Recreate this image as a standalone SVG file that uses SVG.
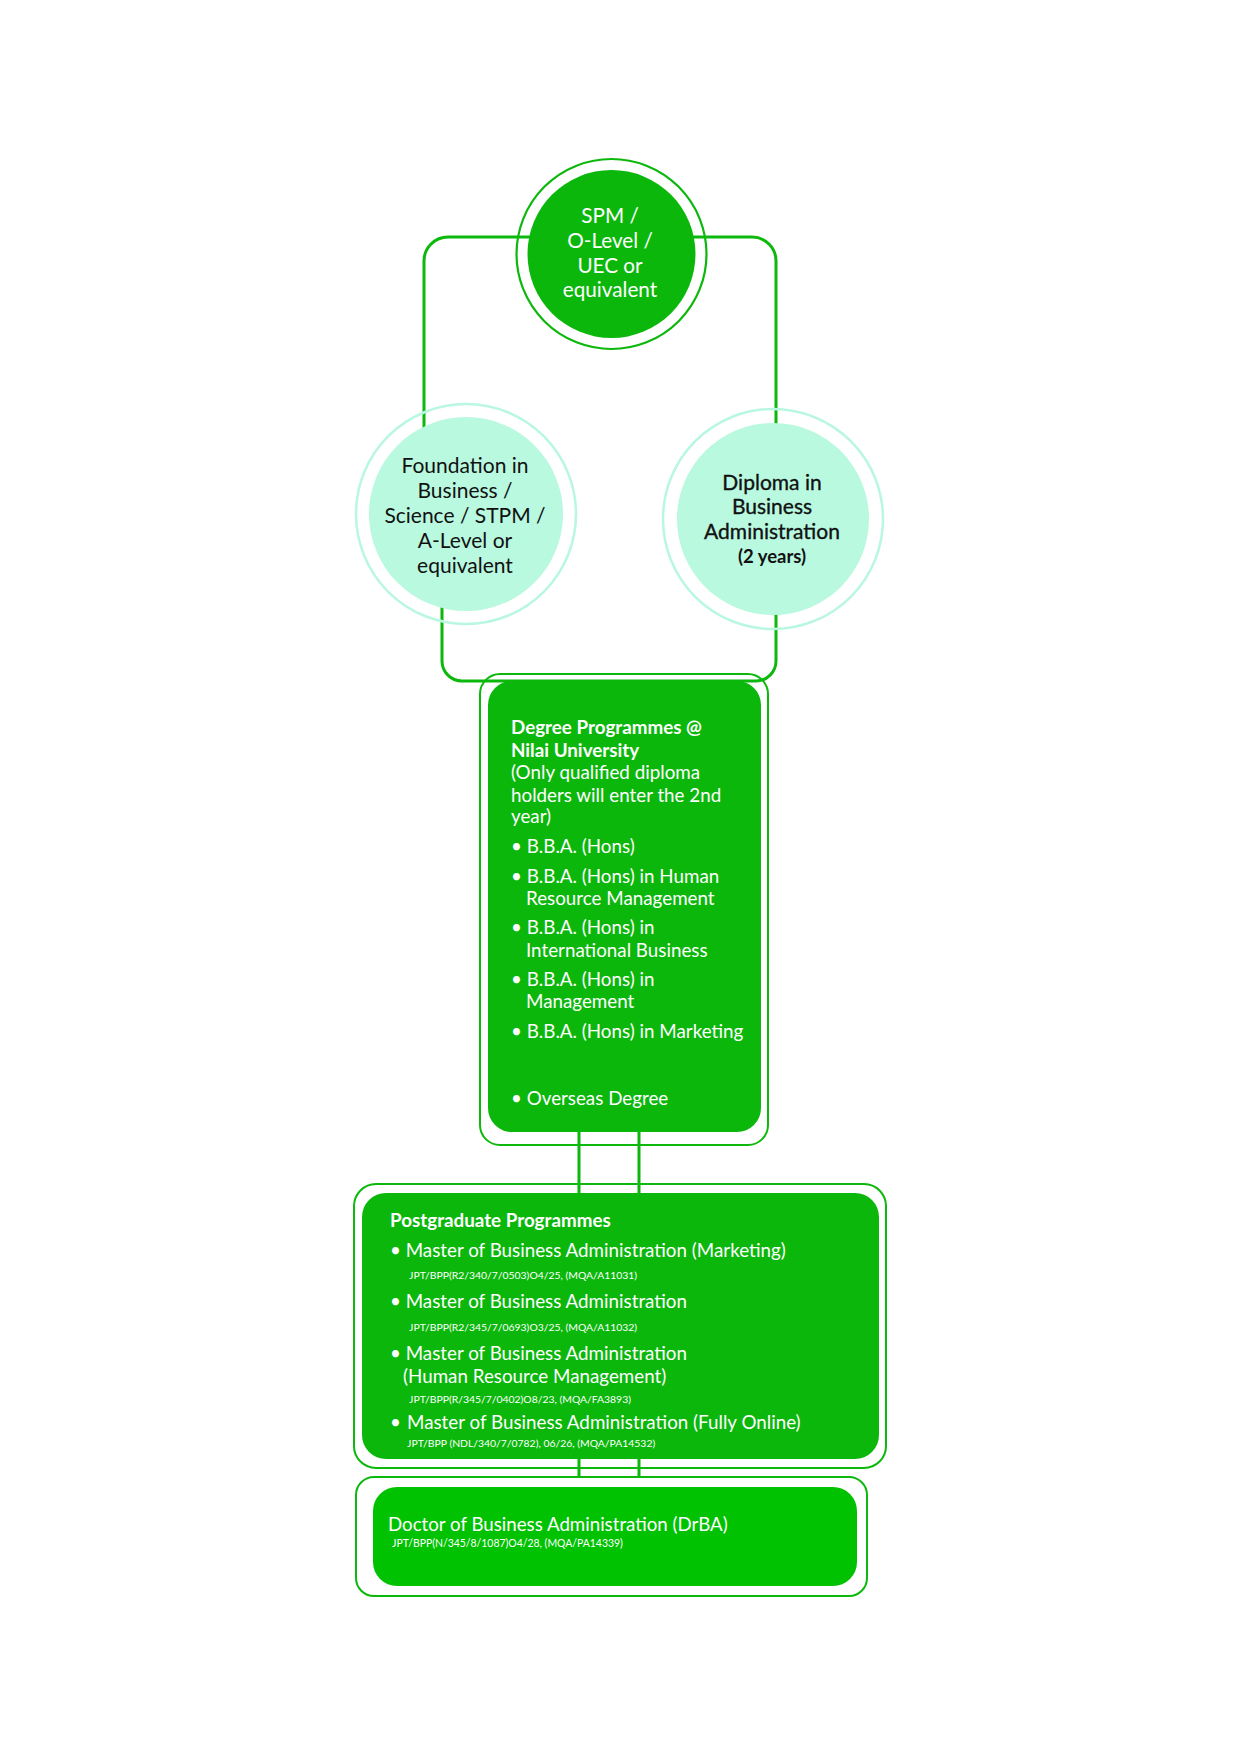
<svg xmlns="http://www.w3.org/2000/svg" width="1241" height="1754" viewBox="0 0 1241 1754">
<style>
.t{font-family:Lato,"Noto Sans","Liberation Sans",sans-serif;}
.w{fill:#ffffff;}
.k{fill:#111111;}
.b{font-weight:bold;}
.c{text-anchor:middle;}
.med{stroke:#111111;stroke-width:0.35;}
.conn{fill:none;stroke:#0cb80c;stroke-width:3;}
.ring{fill:none;stroke:#0cb80c;stroke-width:2.2;}
.mring{fill:none;stroke:#b9f7e1;stroke-width:2.5;}
.box{fill:none;stroke:#0cb80c;stroke-width:2;}
.gfill{fill:#0bb70b;}
.mfill{fill:#b8f9e0;}
</style>
<rect width="1241" height="1754" fill="#ffffff"/>
<g id="connectors">
<path class="conn" d="M424,430 V261 A24,24 0 0 1 448,237 H752 A24,24 0 0 1 776,261 V424"/>
<path class="conn" d="M442,606 V661 A20,20 0 0 0 462,681 H756 A20,20 0 0 0 776,661 V614"/>
<path class="conn" d="M579,1132 V1194 M639,1132 V1194 M579,1458 V1478 M639,1458 V1478"/>
</g>
<g id="node-spm">
<circle class="ring" cx="611.5" cy="254" r="95"/>
<circle class="gfill" cx="611.5" cy="254" r="84"/>
<g class="t w c" font-size="20.7">
<text x="610" y="223">SPM /</text>
<text x="610" y="248">O-Level /</text>
<text x="610" y="273">UEC or</text>
<text x="610" y="297">equivalent</text>
</g>
</g>
<g id="node-foundation">
<circle class="mring" cx="466" cy="514" r="110"/>
<circle class="mfill" cx="466" cy="514" r="97"/>
<g class="t k c" font-size="21">
<text x="465" y="473">Foundation in</text>
<text x="465" y="498">Business /</text>
<text x="465" y="523">Science / STPM /</text>
<text x="465" y="548">A-Level or</text>
<text x="465" y="573">equivalent</text>
</g>
</g>
<g id="node-diploma">
<circle class="mring" cx="773" cy="519" r="110"/>
<circle class="mfill" cx="773" cy="519" r="96"/>
<g class="t k c" font-size="21">
<text class="med" x="772" y="490">Diploma in</text>
<text class="med" x="772" y="514">Business</text>
<text class="med" x="772" y="539">Administration</text>
<text class="b" font-size="18.5" x="772" y="563">(2 years)</text>
</g>
</g>
<g id="node-degree">
<rect class="box" x="480" y="674" width="288" height="471" rx="20"/>
<rect class="gfill" x="488" y="681" width="273" height="451" rx="24"/>
<g class="t w" font-size="18.8">
<text class="b" x="511" y="734">Degree Programmes @</text>
<text class="b" x="511" y="757">Nilai University</text>
<text x="511" y="779">(Only qualified diploma</text>
<text x="511" y="802">holders will enter the 2nd</text>
<text x="511" y="823">year)</text>
<text x="511" y="853">• B.B.A. (Hons)</text>
<text x="511" y="883">• B.B.A. (Hons) in Human</text>
<text x="526" y="905">Resource Management</text>
<text x="511" y="934">• B.B.A. (Hons) in</text>
<text x="526" y="957">International Business</text>
<text x="511" y="986">• B.B.A. (Hons) in</text>
<text x="526" y="1008">Management</text>
<text x="511" y="1038">• B.B.A. (Hons) in Marketing</text>
<text x="511" y="1105">• Overseas Degree</text>
</g>
</g>
<g id="node-postgraduate">
<rect class="box" x="354" y="1184" width="532" height="284" rx="22"/>
<rect class="gfill" x="362" y="1193" width="517" height="266" rx="24"/>
<g class="t w">
<text class="b" font-size="18.8" x="390" y="1227">Postgraduate Programmes</text>
<text font-size="18.8" x="390" y="1257">• Master of Business Administration (Marketing)</text>
<text font-size="10.4" x="409" y="1279">JPT/BPP(R2/340/7/0503)O4/25, (MQA/A11031)</text>
<text font-size="18.8" x="390" y="1308">• Master of Business Administration</text>
<text font-size="10.4" x="409" y="1331">JPT/BPP(R2/345/7/0693)O3/25, (MQA/A11032)</text>
<text font-size="18.8" x="390" y="1360">• Master of Business Administration</text>
<text font-size="18.8" x="403" y="1383">(Human Resource Management)</text>
<text font-size="10.4" x="409" y="1403">JPT/BPP(R/345/7/0402)O8/23, (MQA/FA3893)</text>
<text font-size="18.8" x="390" y="1429">• <tspan x="407">Master of Business Administration (Fully Online)</tspan></text>
<text font-size="10.4" x="407" y="1447">JPT/BPP (NDL/340/7/0782), 06/26, (MQA/PA14532)</text>
</g>
</g>
<g id="node-drba">
<rect class="box" x="356" y="1477" width="511" height="119" rx="18"/>
<rect fill="#00c200" x="373" y="1487" width="484" height="99" rx="24"/>
<text class="t w" font-size="18.7" x="388" y="1531">Doctor of Business Administration (DrBA)</text>
<text class="t w" font-size="10.45" x="392" y="1547">JPT/BPP(N/345/8/1087)O4/28, (MQA/PA14339)</text>
</g>
</svg>
